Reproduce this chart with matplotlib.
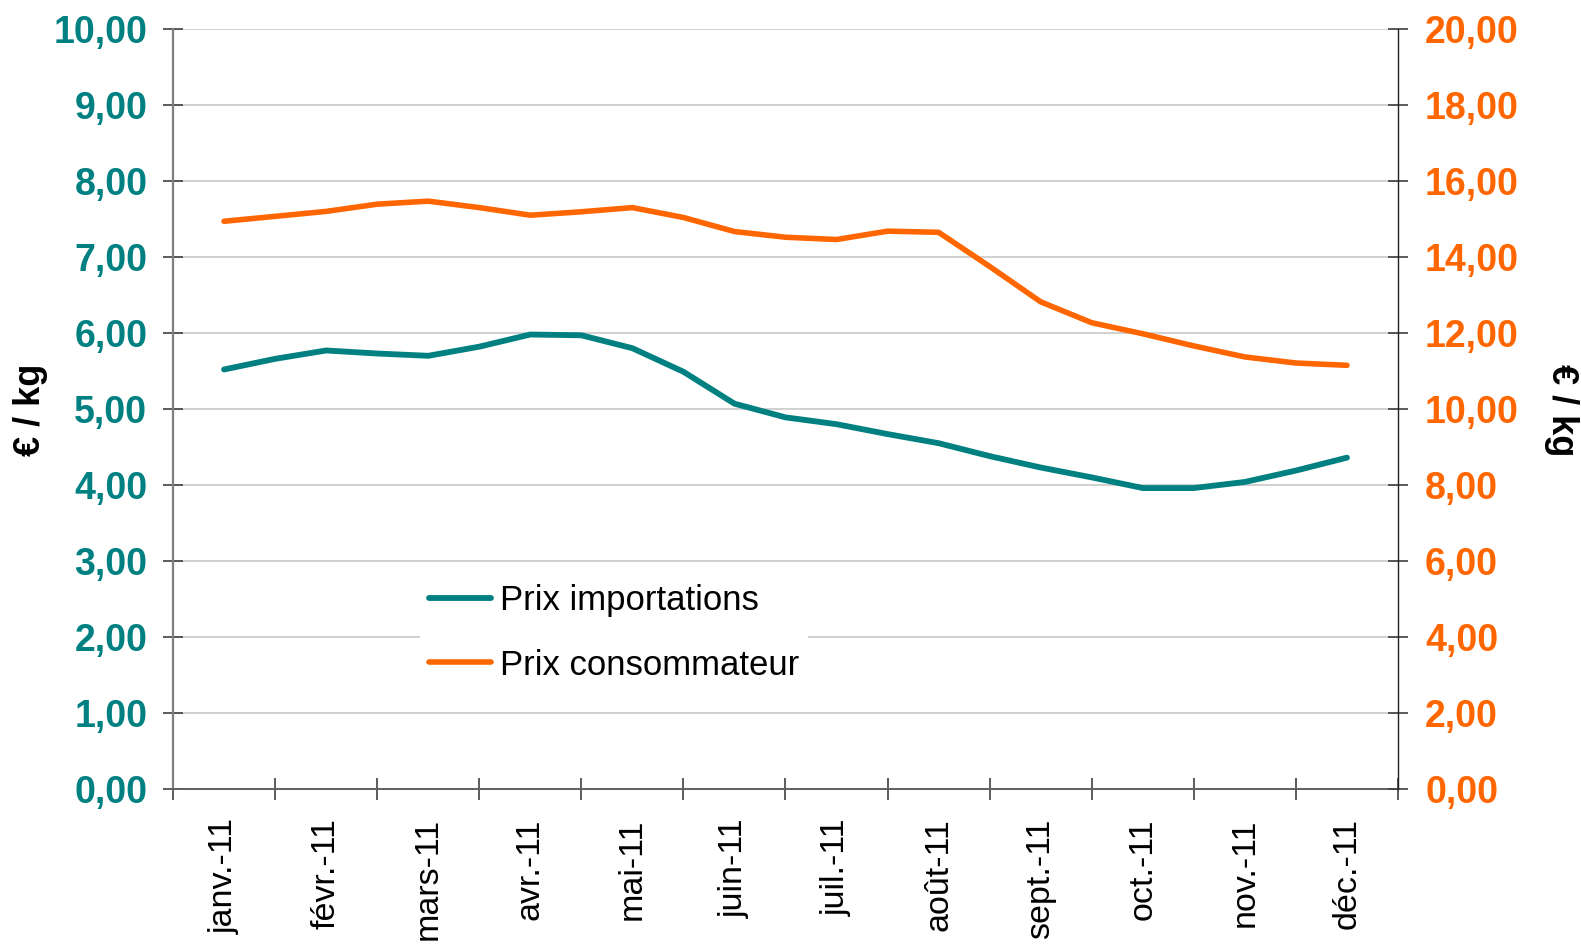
import numpy as np
import matplotlib
matplotlib.use("Agg")
import matplotlib.pyplot as plt

plt.rcParams['font.family'] = ['Liberation Sans', 'DejaVu Sans']

# month labels (one category per month)
mois = ["janv.-11", "févr.-11", "mars-11", "avr.-11", "mai-11", "juin-11",
        "juil.-11", "août-11", "sept.-11", "oct.-11", "nov.-11", "déc.-11"]

# readings taken every half month, from janv. to déc.
pos = np.arange(0, 11.5, 0.5)
prix_import = [5.52, 5.66, 5.77, 5.73, 5.70, 5.82, 5.98, 5.97, 5.80, 5.49, 5.07, 4.89,
               4.80, 4.67, 4.55, 4.38, 4.23, 4.10, 3.96, 3.96, 4.04, 4.19, 4.36]
prix_conso = [14.94, 15.07, 15.20, 15.39, 15.47, 15.30, 15.10, 15.19, 15.30, 15.04, 14.67, 14.52,
              14.46, 14.68, 14.65, 13.75, 12.82, 12.27, 11.98, 11.66, 11.37, 11.21, 11.15]

teal = "#008080"
orange = "#FF6600"

fig = plt.figure(figsize=(15.81, 9.46), dpi=100)
ax = fig.add_axes([173 / 1581, 1 - 789 / 946, (1398 - 173) / 1581, (789 - 29) / 946])
ax2 = ax.twinx()

l1, = ax.plot(pos, prix_import, color=teal, lw=4.2, solid_capstyle="round",
              solid_joinstyle="round", label="Prix importations", zorder=3)
l2, = ax2.plot(pos, prix_conso, color=orange, lw=4.0, solid_capstyle="round",
               solid_joinstyle="round", label="Prix consommateur", zorder=3)

ax.set_xlim(-0.5, 11.5)
ax.set_ylim(0, 10)
ax2.set_ylim(0, 20)

ax.set_yticks(np.arange(0, 11, 1))
ax.set_yticklabels([f"{v:.2f}".replace(".", ",") for v in range(0, 11)])
ax2.set_yticks(np.arange(0, 21, 2))
ax2.set_yticklabels([f"{v:.2f}".replace(".", ",") for v in range(0, 21, 2)])

ax.set_xticks(np.arange(-0.5, 12, 1))
ax.set_xticklabels([])
ax.set_xticks(np.arange(12), minor=True)
ax.set_xticklabels(mois, minor=True, rotation=90, fontsize=24.5, va="top", ha="center")
ax.tick_params(axis="x", which="minor", length=0, pad=21)
ax.tick_params(axis="x", which="major", direction="inout", length=16, width=1.2, color="#404040")

ax.tick_params(axis="y", direction="inout", length=15, width=1.2, color="#404040",
               labelsize=27, labelcolor=teal, pad=11)
ax2.tick_params(axis="y", direction="inout", length=15, width=1.2, color="#404040",
                labelsize=27, labelcolor=orange, pad=12)
for t in ax.get_yticklabels():
    t.set_fontweight("bold")
for t in ax2.get_yticklabels():
    t.set_fontweight("bold")

ax.grid(axis="y", color="#c8c8c8", lw=1.2)
ax.set_axisbelow(True)

ax.spines["top"].set_visible(False)
ax2.spines["top"].set_visible(False)
ax2.spines["left"].set_visible(False)
ax2.spines["bottom"].set_visible(False)
ax.spines["right"].set_visible(False)
ax.spines["left"].set_color("#808080")
ax.spines["left"].set_linewidth(1.6)
ax.spines["bottom"].set_color("#606060")
ax.spines["bottom"].set_linewidth(1.4)
ax2.spines["right"].set_color("#202020")
ax2.spines["right"].set_linewidth(1.0)

fig.text(30 / 1581, 1 - 410 / 946, "€ / kg", rotation=90, fontsize=26, fontweight="bold",
         ha="center", va="center")
fig.text(1562 / 1581, 1 - 410 / 946, "€ / kg", rotation=-90, fontsize=26, fontweight="bold",
         ha="center", va="center")

leg = ax2.legend(handles=[l1, l2], loc="center", bbox_to_anchor=(614 / 1581, 1 - 633 / 946),
                 bbox_transform=fig.transFigure, fontsize=25, frameon=True,
                 handlelength=1.8, handletextpad=0.25, labelspacing=0.9, borderpad=0.25)
leg.get_frame().set_facecolor("white")
leg.get_frame().set_edgecolor("none")
leg.get_frame().set_alpha(1)

fig.savefig("out.png", dpi=100)
